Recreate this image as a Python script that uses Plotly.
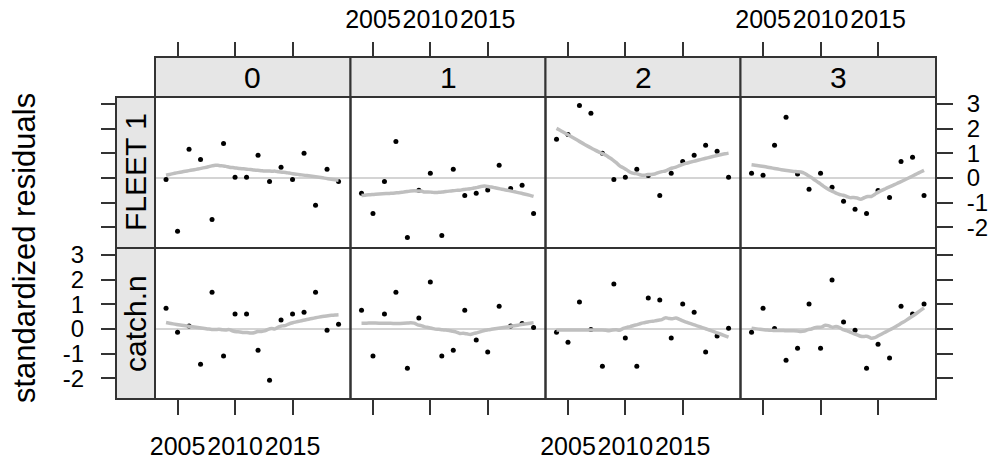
import numpy as np
import plotly.graph_objects as go

# ---- data -------------------------------------------------------------
years = list(range(2004, 2020))
ages = ["0", "1", "2", "3"]
fleets = ["FLEET 1", "catch.n"]

fleet1_age0 = [-0.06, -2.16, 1.16, 0.75, -1.68, 1.40, 0.03, 0.03, 0.92, -0.14, 0.43, -0.06, 1.00, -1.11, 0.35, -0.14]
fleet1_age1 = [-0.62, -1.44, -0.14, 1.48, -2.41, -0.50, 0.19, -2.33, 0.35, -0.71, -0.62, -0.49, 0.51, -0.43, -0.30, -1.44]
fleet1_age2 = [1.57, 1.76, 2.94, 2.62, 1.00, -0.06, 0.03, 0.35, 0.10, -0.71, 0.19, 0.67, 0.92, 1.32, 1.08, 0.03]
fleet1_age3 = [0.19, 0.11, 1.32, 2.46, 0.16, -0.46, 0.19, -0.38, -0.95, -1.27, -1.44, -0.51, -0.79, 0.67, 0.84, -0.71]

catch_age0 = [0.84, -0.13, 0.12, -1.43, 1.49, -1.10, 0.60, 0.60, -0.86, -2.08, 0.36, 0.60, 0.68, 1.49, -0.05, 0.19]
catch_age1 = [0.76, -1.10, 0.60, 1.49, -1.59, 0.44, 1.90, -1.10, -0.86, 0.76, -0.45, -0.94, 0.92, 0.12, 0.22, 0.06]
catch_age2 = [-0.13, -0.54, 1.09, -0.02, -1.51, 1.82, -0.37, -1.51, 1.25, 1.17, -0.37, 1.01, 0.68, -0.94, -0.29, 0.03]
catch_age3 = [-0.13, 0.84, 0.02, -1.27, -0.78, 1.01, -0.78, 1.98, 0.28, -0.05, -1.59, -0.62, -1.18, 0.92, 0.60, 1.01]

residuals = [
    [fleet1_age0, fleet1_age1, fleet1_age2, fleet1_age3],
    [catch_age0, catch_age1, catch_age2, catch_age3],
]

x_ticks = [2005, 2010, 2015]
y_ticks = [-2, -1, 0, 1, 2, 3]
y_tick_text = ["-2", "-1", "0", "1", "2", "3"]


# ---- robust local-linear smoother (loess, span 2/3, degree 1) ---------
def loess_smooth(x, y, span=2 / 3, iterations=4, evaluation=50):
    x = np.asarray(x, float)
    y = np.asarray(y, float)
    n = len(x)
    q = int(np.floor(n * span))
    xe = np.linspace(x.min(), x.max(), evaluation)
    robust = np.ones(n)

    def fit_at(x0, rw):
        d = np.abs(x - x0)
        h = np.sort(d)[q - 1] * 1.0001
        u = np.clip(d / h, 0, 1)
        w = (1 - u ** 3) ** 3 * rw
        sw = w.sum()
        xm = (w * x).sum() / sw
        ym = (w * y).sum() / sw
        sxx = (w * (x - xm) ** 2).sum()
        b = (w * (x - xm) * (y - ym)).sum() / sxx if sxx > 0 else 0.0
        return ym + b * (x0 - xm)

    for it in range(iterations):
        fitted = np.array([fit_at(xi, robust) for xi in x])
        if it < iterations - 1:
            r = y - fitted
            s = np.median(np.abs(r))
            if s <= 0:
                break
            u = np.clip(r / (6 * s), -1, 1)
            robust = (1 - u ** 2) ** 2
    ye = np.array([fit_at(x0, robust) for x0 in xe])
    return xe, ye


# ---- layout geometry (pixels) -----------------------------------------
W, H = 990, 461
col_edges = [155, 350.5, 545.5, 740.5, 936]
row_edges = [97, 248, 399]
strip_top = 57
left_strip_x = 116

FONT = "Liberation Sans, Arial, sans-serif"
INK = "#333333"

fig = go.Figure()
layout = dict(
    width=W, height=H,
    margin=dict(l=0, r=0, t=0, b=0, autoexpand=False),
    paper_bgcolor="white", plot_bgcolor="white",
    showlegend=False,
    font=dict(family=FONT, color="black"),
)
shapes = []
annotations = []

for r in range(2):
    for c in range(4):
        k = r * 4 + c + 1
        xa = f"xaxis{k}" if k > 1 else "xaxis"
        ya = f"yaxis{k}" if k > 1 else "yaxis"
        xref = f"x{k}" if k > 1 else "x"
        yref = f"y{k}" if k > 1 else "y"

        x_ax = dict(
            domain=[col_edges[c] / W, col_edges[c + 1] / W],
            range=[2003.04, 2020.04],
            showgrid=False, zeroline=False, showline=False, automargin=False,
            tickvals=x_ticks, ticktext=[str(v) for v in x_ticks], tickangle=0,
            ticks="outside", ticklen=15, tickwidth=2, tickcolor=INK,
            tickfont=dict(family=FONT, size=25, color="black"),
        )
        if r == 0:
            x_ax.update(side="top", anchor="free",
                        position=1 - strip_top / H,
                        showticklabels=(c in (1, 3)),
                        ticklabelstandoff=4)
        else:
            x_ax.update(side="bottom", anchor=yref,
                        showticklabels=(c in (0, 2)),
                        ticklabelstandoff=10)
        layout[xa] = x_ax

        y_ax = dict(
            domain=[1 - row_edges[r + 1] / H, 1 - row_edges[r] / H],
            range=[-2.84, 3.28],
            showgrid=False, zeroline=False, showline=False, automargin=False,
            tickvals=y_ticks, ticktext=y_tick_text, tickangle=0,
            tickfont=dict(family=FONT, size=24, color="black"),
        )
        if c == 0:
            y_ax.update(side="left", anchor="free",
                        position=left_strip_x / W,
                        ticks="outside", ticklen=15, tickwidth=2, tickcolor=INK,
                        showticklabels=(r == 1), ticklabelstandoff=12)
        elif c == 3:
            y_ax.update(side="right", anchor=xref,
                        ticks="outside", ticklen=16, tickwidth=2, tickcolor=INK,
                        showticklabels=(r == 0), ticklabelstandoff=9)
        else:
            y_ax.update(ticks="", showticklabels=False, anchor=xref)
        layout[ya] = y_ax

        vals = residuals[r][c]

        # zero reference line
        shapes.append(dict(type="line", xref=f"{xref} domain", yref=yref,
                           x0=0, x1=1, y0=0, y1=0,
                           line=dict(color="#d4d4d4", width=2), layer="below"))

        # residual points
        fig.add_trace(go.Scatter(
            x=years, y=vals, mode="markers", xaxis=xref, yaxis=yref,
            marker=dict(color="black", size=5, symbol="circle"),
            hoverinfo="skip"))

        # smoothed trend
        xs, ys = loess_smooth(years, vals)
        fig.add_trace(go.Scatter(
            x=xs, y=ys, mode="lines", xaxis=xref, yaxis=yref,
            line=dict(color="#bfbfbf", width=3.5, shape="spline"),
            hoverinfo="skip"))

        # panel border
        shapes.append(dict(type="rect", xref="paper", yref="paper",
                           x0=col_edges[c] / W, x1=col_edges[c + 1] / W,
                           y0=1 - row_edges[r + 1] / H, y1=1 - row_edges[r] / H,
                           line=dict(color=INK, width=2), fillcolor="rgba(0,0,0,0)",
                           layer="above"))

# top strips (age)
for c, age in enumerate(ages):
    shapes.append(dict(type="rect", xref="paper", yref="paper",
                       x0=col_edges[c] / W, x1=col_edges[c + 1] / W,
                       y0=1 - row_edges[0] / H, y1=1 - strip_top / H,
                       line=dict(color=INK, width=2), fillcolor="#e6e6e6",
                       layer="below"))
    annotations.append(dict(text=age, xref="paper", yref="paper",
                            x=(col_edges[c] + col_edges[c + 1]) / 2 / W,
                            y=1 - (strip_top + row_edges[0]) / 2 / H,
                            showarrow=False, xanchor="center", yanchor="middle",
                            font=dict(family=FONT, size=30, color="black")))

# left strips (fleet)
for r, fleet in enumerate(fleets):
    shapes.append(dict(type="rect", xref="paper", yref="paper",
                       x0=left_strip_x / W, x1=col_edges[0] / W,
                       y0=1 - row_edges[r + 1] / H, y1=1 - row_edges[r] / H,
                       line=dict(color=INK, width=2), fillcolor="#e6e6e6",
                       layer="below"))
    annotations.append(dict(text=fleet, xref="paper", yref="paper",
                            x=(left_strip_x + col_edges[0]) / 2 / W,
                            y=1 - (row_edges[r] + row_edges[r + 1]) / 2 / H,
                            textangle=-90, showarrow=False,
                            xanchor="center", yanchor="middle",
                            font=dict(family=FONT, size=30, color="black")))

# y-axis title
annotations.append(dict(text="standardized residuals", xref="paper", yref="paper",
                        x=24 / W, y=1 - 248 / H, textangle=-90, showarrow=False,
                        xanchor="center", yanchor="middle",
                        font=dict(family=FONT, size=31, color="black")))

layout["shapes"] = shapes
layout["annotations"] = annotations
fig.update_layout(**layout)

fig.write_html("out.html")
